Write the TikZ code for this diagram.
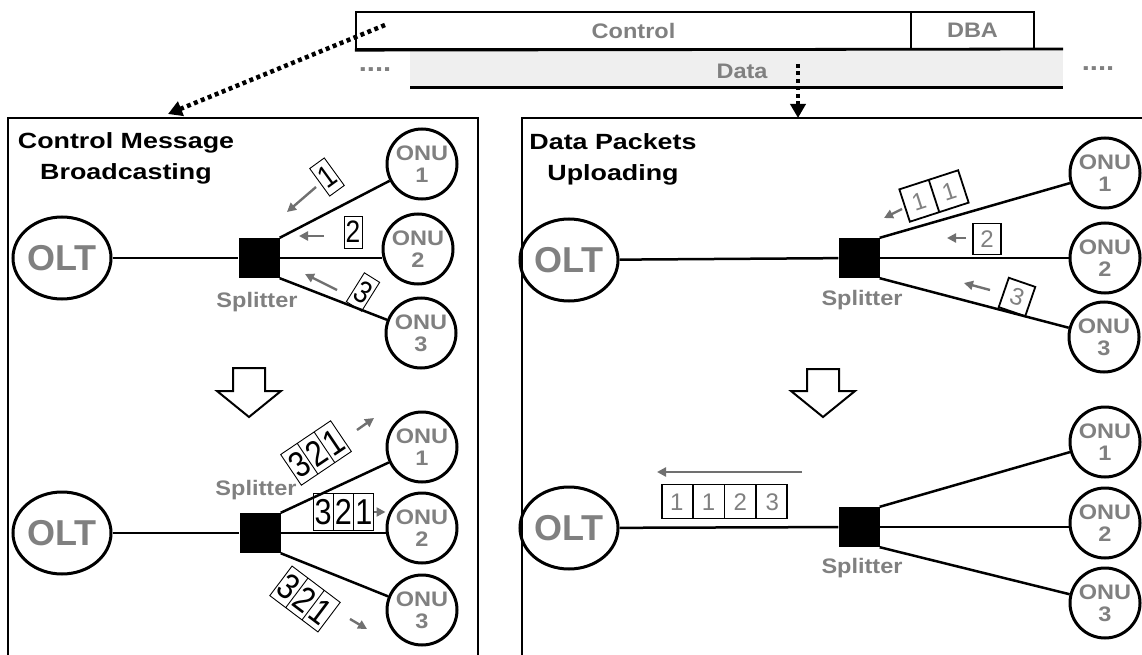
\documentclass[tikz,border=0pt]{standalone}
\usepackage{fontspec}
\setmainfont{Liberation Sans}
\newfontfamily\titlefam[FakeStretch=1.22]{Liberation Sans}
\newfontfamily\labfam[FakeStretch=1.12]{Liberation Sans}
\newfontfamily\digitfam[FakeStretch=0.85]{Liberation Sans}
\usetikzlibrary{arrows.meta,shapes.geometric,shapes.multipart}

\definecolor{labgray}{HTML}{808080}
\definecolor{arrgray}{HTML}{707070}
\definecolor{bandgray}{HTML}{EFEFEF}

% packet cells: broadcast (left) and upload (right)
\newcommand\lcell[1]{\makebox[19.5pt]{\rule[-5.6pt]{0pt}{37pt}#1}}
\newcommand\rcell[1]{\makebox[30pt]{\rule[-8.4pt]{0pt}{34pt}#1}}

\tikzset{
  fiber/.style={line width=2.5pt},
  panel/.style={draw, line width=2pt},
  olt/.style={ellipse, draw, line width=3pt, minimum width=80pt, minimum height=82pt,
    inner sep=0pt, font=\bfseries\fontsize{36}{36}\selectfont, text=labgray},
  onu/.style={circle, draw, line width=3pt, minimum size=70pt, inner sep=0pt, align=center,
    font=\labfam\bfseries\fontsize{21}{22}\selectfont, text=labgray},
  splitter/.style={rectangle, fill=black, minimum width=41pt, minimum height=40pt, inner sep=0pt},
  splitlabel/.style={font=\labfam\bfseries\fontsize{21}{21}\selectfont, text=labgray},
  paneltitle/.style={align=center, font=\titlefam\bfseries\fontsize{22}{31}\selectfont},
  bcast/.style={draw, line width=0.9pt, inner sep=0pt, font=\digitfam\fontsize{31}{31}\selectfont},
  upcell/.style={draw, line width=1.8pt, inner sep=0pt, text=labgray, font=\fontsize{24}{24}\selectfont},
  packetstrip/.style={rectangle split, rectangle split horizontal, rectangle split parts=#1, inner sep=0pt},
  lstrip/.style={packetstrip=3, draw, line width=0.9pt, font=\digitfam\fontsize{36}{36}\selectfont},
  pktmove/.style={draw=arrgray, line width=2.4pt, -{Triangle[length=9pt,width=9pt]}},
  dotarrow/.style={line width=4.5pt, dash pattern=on 4pt off 3.5pt, -{Triangle[length=14pt,width=15pt]}},
  bigarrow/.style={draw, line width=2pt, fill=white, line join=miter},
  framebox/.style={draw, line width=2.3pt, minimum height=37pt, inner sep=0pt,
    font=\labfam\bfseries\fontsize{21}{21}\selectfont, text=labgray},
  dots/.style={text=labgray, font=\labfam\bfseries\fontsize{26}{26}\selectfont},
}

\begin{document}
\begin{tikzpicture}[x=1pt, y=-1pt]
\useasboundingbox (0,0) rectangle (1142,655);
\clip (0,0) rectangle (1142,655);

% ---------- frame structure ----------
\fill[bandgray] (410,49) rectangle (1063,88);
\node[framebox, minimum width=555pt] (ctrl) at (633.5,30.5) {Control};
\node[framebox, minimum width=123pt] (dba) at (972.5,30.5) {DBA};
\draw[line width=2.8pt] (ctrl.south west) -- (1063,49);
\draw[line width=3pt] (410,88) -- (1063,88);
\node[framebox, draw=none] (data) at (742,71) {Data};
\node[dots] (dotsl) at (375,70) {....};
\node[dots] (dotsr) at (1098,69) {....};

% ---------- panels ----------
\draw[panel] (8,670) -- (8,118) -- (478,118) -- (478,670);
\draw[panel] (522,670) -- (522,118) -- (1160,118);

\coordinate (ctrlsrc) at (385,25);
\coordinate (leftin) at (168,114);
\draw[dotarrow] (ctrlsrc) -- (leftin);
\coordinate (datasrc) at (798,64);
\coordinate (rightin) at (798,118);
\draw[dotarrow] (datasrc) -- (rightin);

\node[paneltitle] (titleA) at (126,158) {Control Message\\Broadcasting};
\node[paneltitle] (titleC) at (613,159) {Data Packets\\Uploading};

% ---------- broadcasting: before ----------
\node[olt] (oltA) at (62,258) {OLT};
\node[splitter] (splA) at (259,258) {};
\node[splitlabel] (slA) at (257,302) {Splitter};
\node[onu] (onuA1) at (422,164) {ONU\\1};
\node[onu] (onuA2) at (418,249) {ONU\\2};
\node[onu] (onuA3) at (421,333) {ONU\\3};
\draw[fiber] (oltA) -- (splA);
\draw[fiber] (splA.north east) -- (onuA1);
\draw[fiber] (splA.east) -- (splA.east -| onuA2.west);
\draw[fiber] (splA.south east) -- (onuA3);

\node[bcast, minimum width=18pt, minimum height=34pt, rotate=36] (pA1) at (327,177) {1};
\node[bcast, minimum width=18pt, minimum height=32pt] (pA2) at (353,232) {2};
\node[bcast, minimum width=18pt, minimum height=34pt, rotate=-32] (pA3) at (363,292) {3};
\coordinate (mA1s) at (316,187); \coordinate (mA1e) at (287,212);
\coordinate (mA2s) at (324,236); \coordinate (mA2e) at (299,236);
\coordinate (mA3s) at (337,290); \coordinate (mA3e) at (305,274);
\draw[pktmove] (mA1s) -- (mA1e);
\draw[pktmove] (mA2s) -- (mA2e);
\draw[pktmove] (mA3s) -- (mA3e);

\draw[bigarrow] (233,368) -- (265,368) -- (265,391) -- (281,391) -- (249,417)
  -- (217,391) -- (233,391) -- cycle;

% ---------- broadcasting: after ----------
\node[olt] (oltB) at (62,533) {OLT};
\node[splitter] (splB) at (260,533) {};
\node[splitlabel] (slB) at (256,490) {Splitter};
\node[onu] (onuB1) at (422,447) {ONU\\1};
\node[onu] (onuB2) at (422,528) {ONU\\2};
\node[onu] (onuB3) at (422,610) {ONU\\3};
\draw[fiber] (oltB) -- (splB);
\draw[fiber] (splB.north east) -- (onuB1);
\draw[fiber] (splB.east) -- (splB.east -| onuB2.west);
\draw[fiber] (splB.south east) -- (onuB3);

\node[lstrip, rotate=34] (sB1) at (316,453) {\lcell{3}\nodepart{two}\lcell{2}\nodepart{three}\lcell{1}};
\node[lstrip] (sB2) at (343.5,512) {\lcell{3}\nodepart{two}\lcell{2}\nodepart{three}\lcell{1}};
\node[lstrip, rotate=-37] (sB3) at (305,599) {\lcell{3}\nodepart{two}\lcell{2}\nodepart{three}\lcell{1}};
\coordinate (mB1s) at (357,430); \coordinate (mB1e) at (374,418);
\coordinate (mB3s) at (350,619); \coordinate (mB3e) at (367,629);
\draw[pktmove] (mB1s) -- (mB1e);
\draw[pktmove] (sB2.east) -- (sB2.east -| onuB2.west);
\draw[pktmove] (mB3s) -- (mB3e);

% ---------- uploading: before ----------
\node[olt] (oltC) at (569,260) {OLT};
\node[splitter] (splC) at (859,258) {};
\node[splitlabel] (slC) at (862,300) {Splitter};
\node[onu] (onuC1) at (1105,173) {ONU\\1};
\node[onu] (onuC2) at (1105,258) {ONU\\2};
\node[onu] (onuC3) at (1104,337) {ONU\\3};
\draw[fiber] (oltC) -- (splC);
\draw[fiber] (splC.north east) -- (onuC1);
\draw[fiber] (splC.east) -- (onuC2);
\draw[fiber] (splC.south east) -- (onuC3);

\node[upcell, packetstrip=2, rotate=18] (pC1) at (934,196) {\rcell{1}\nodepart{two}\rcell{1}};
\node[upcell, minimum width=28pt, minimum height=31pt] (pC2) at (987,239) {2};
\node[upcell, minimum width=28pt, minimum height=31pt, rotate=-19] (pC3) at (1017,297) {3};
\coordinate (mC1s) at (902,209); \coordinate (mC1e) at (884,218);
\coordinate (mC2s) at (966,238); \coordinate (mC2e) at (947,238);
\coordinate (mC3s) at (990,290); \coordinate (mC3e) at (964,283);
\draw[pktmove] (mC1s) -- (mC1e);
\draw[pktmove] (mC2s) -- (mC2e);
\draw[pktmove] (mC3s) -- (mC3e);

\draw[bigarrow] (807,369) -- (839,369) -- (839,391) -- (855,391) -- (823,417)
  -- (791,391) -- (807,391) -- cycle;

% ---------- uploading: after ----------
\node[olt] (oltD) at (569,528) {OLT};
\node[splitter] (splD) at (859,527) {};
\node[splitlabel] (slD) at (862,568) {Splitter};
\node[onu] (onuD1) at (1105,442) {ONU\\1};
\node[onu] (onuD2) at (1105,523) {ONU\\2};
\node[onu] (onuD3) at (1105,603) {ONU\\3};
\draw[fiber] (oltD) -- (splD);
\draw[fiber] (splD.north east) -- (onuD1);
\draw[fiber] (splD.east) -- (splD.east -| onuD2.west);
\draw[fiber] (splD.south east) -- (onuD3);

\node[upcell, packetstrip=4] (sD) at (724.5,501.5)
  {\rcell{1}\nodepart{two}\rcell{1}\nodepart{three}\rcell{2}\nodepart{four}\rcell{3}};
\coordinate (mDs) at (802,472); \coordinate (mDe) at (657,472);
\draw[pktmove] (mDs) -- (mDe);
\end{tikzpicture}
\end{document}
